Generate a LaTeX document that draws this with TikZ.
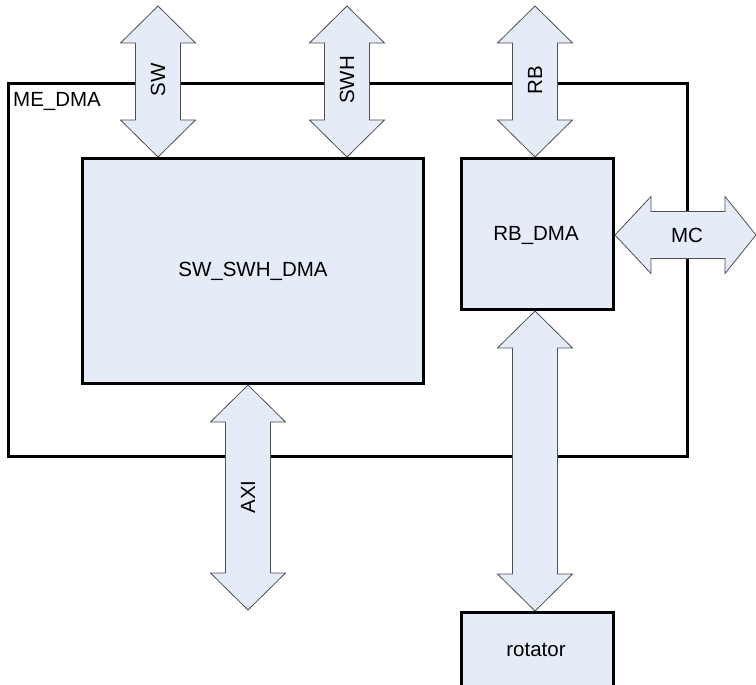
\documentclass[tikz,border=0pt]{standalone}
\usepackage{fontspec}
\setmainfont{Liberation Sans}
\usetikzlibrary{calc}
\definecolor{boxfill}{RGB}{230,236,247}
\definecolor{arrline}{RGB}{80,80,80}
\newcommand\vbus[3]{%
  \draw[bus] let \p1=(#1), \p2=(#2) in
    (\x1,\y1) -- (\x1+37.5pt,\y1-37pt) -- (\x1+22.5pt,\y1-37pt) --
    (\x1+22.5pt,\y2+37pt) -- (\x1+37.5pt,\y2+37pt) -- (\x1,\y2) --
    (\x1-37.5pt,\y2+37pt) -- (\x1-22.5pt,\y2+37pt) --
    (\x1-22.5pt,\y1-37pt) -- (\x1-37.5pt,\y1-37pt) -- cycle;}
\newcommand\hbus[3]{%
  \draw[bus] let \p1=(#1), \p2=(#2) in
    (\x1,\y1) -- (\x1+36pt,\y1+38.5pt) -- (\x1+36pt,\y1+23.5pt) --
    (\x2-31pt,\y1+23.5pt) -- (\x2-31pt,\y1+38.5pt) -- (\x2,\y1) --
    (\x2-31pt,\y1-38.5pt) -- (\x2-31pt,\y1-23.5pt) --
    (\x1+36pt,\y1-23.5pt) -- (\x1+36pt,\y1-38.5pt) -- cycle;}
\begin{document}
\begin{tikzpicture}[x=1pt,y=-1pt,
  blk/.style={draw=black,line width=3pt,fill=boxfill,inner sep=0pt},
  outer/.style={draw=black,line width=3pt,fill=none,inner sep=0pt},
  bus/.style={draw=arrline,line width=0.8pt,fill=boxfill,line join=miter},
  lbl/.style={font=\fontsize{20.5}{23}\selectfont,inner sep=0pt}]
\clip (0,0) rectangle (756,685);
\fill[white] (0,0) rectangle (756,685);
% outer box
\node[outer,minimum width=679pt,minimum height=373pt,anchor=north west] (me) at (7,82) {};
\node[lbl,anchor=north west] (melbl) at (13,92) {ME\_DMA};
% inner blocks
\node[blk,minimum width=341pt,minimum height=225pt,anchor=north west] (sw) at (81,157) {};
\node[lbl] (swlbl) at (sw.center) {SW\_SWH\_DMA};
\node[blk,minimum width=152pt,minimum height=151pt,anchor=north west] (rb) at (460,157) {};
\node[lbl] (rblbl) at (536,235) {RB\_DMA};
\node[blk,minimum width=152pt,minimum height=120pt,anchor=north west] (rot) at (460,611) {};
\node[lbl] (rotlbl) at (536,650) {rotator};
% free ends
\coordinate (swtop) at (158,6);
\coordinate (swhtop) at (347,6);
\coordinate (rbtop) at (535,6);
\coordinate (axibot) at (248,610);
\coordinate (mcend) at (756,235);
\coordinate (swbot) at (swtop |- sw.north);
\coordinate (swhbot) at (swhtop |- sw.north);
\coordinate (rbbot) at (rbtop |- rb.north);
\coordinate (axitop) at (axibot |- sw.south);
\coordinate (rbdown) at (rbtop |- rb.south);
\coordinate (rotup) at (rbtop |- rot.north);
\coordinate (mcstart) at (rb.east |- mcend);
% buses
\vbus{swtop}{swbot}{}
\node[lbl,rotate=90] (swl) at (158,80) {SW};
\vbus{swhtop}{swhbot}{}
\node[lbl,rotate=90] (swhl) at (347,80) {SWH};
\vbus{rbtop}{rbbot}{}
\node[lbl,rotate=90] (rbl) at (535,80) {RB};
\vbus{axitop}{axibot}{}
\node[lbl,rotate=90] (axil) at (248,497) {AXI};
\vbus{rbdown}{rotup}{}
\hbus{mcstart}{mcend}{}
\node[lbl] (mcl) at (687,235) {MC};
\end{tikzpicture}
\end{document}
